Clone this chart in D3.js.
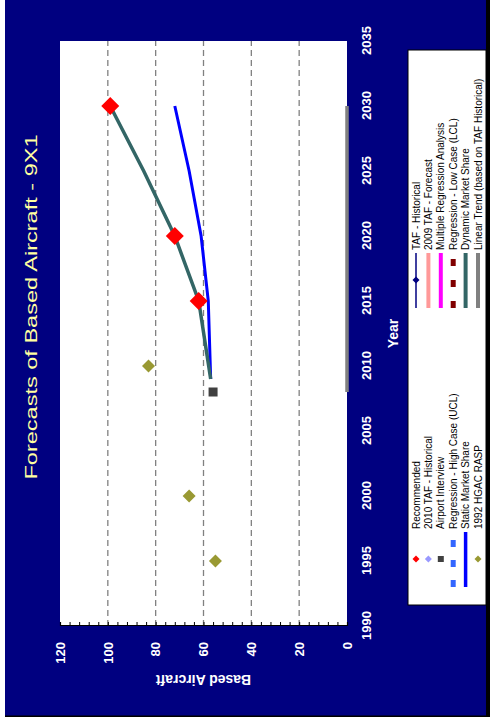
<!DOCTYPE html>
<html>
<head>
<meta charset="utf-8">
<script src="https://cdn.jsdelivr.net/npm/d3@7"></script>
<style>
  html, body { margin: 0; padding: 0; background: #ffffff; }
  svg { display: block; }
  text { font-family: "Liberation Sans", Arial, sans-serif; }
</style>
</head>
<body>
<script>
// ---------------- data ----------------
const yearTicks = [1990, 1995, 2000, 2005, 2010, 2015, 2020, 2025, 2030, 2035];
const valueTicks = [0, 20, 40, 60, 80, 100, 120];

const recommendedYears = [2015, 2020, 2030];
const recommendedValues = [62, 72, 99];

const dynamicYears = [2009, 2015, 2020, 2025, 2030];
const dynamicValues = [57, 62, 72, 85, 99];

const staticYears = [2009, 2015, 2020, 2025, 2030];
const staticValues = [57, 58, 61, 66, 72];

const interviewYears = [2008];
const interviewValues = [56];

const rasp1992Years = [1995, 2000, 2010];
const rasp1992Values = [55, 66, 83];

const linearTrendYears = [2008, 2030];
const linearTrendValues = [0, 0];

const legendCol1 = ["Recommended", "2010 TAF - Historical", "Airport Interview",
  "Regression - High Case (UCL)", "Static Market Share", "1992 HGAC RASP"];
const legendCol2 = ["TAF - Historical", "2009 TAF - Forecast", "Multiple Regression Analysis",
  "Regression - Low Case (LCL)", "Dynamic Market Share", "Linear Trend (based on TAF Historical)"];

// ---------------- layout (chart drawn in unrotated frame, then rotated -90deg) ----------------
const svg = d3.select("body").append("svg").attr("width", 490).attr("height", 721);
const g = svg.append("g").attr("transform", `translate(0,${721}) rotate(-90)`);

const NAVY = "#000080";
// background
g.append("rect").attr("x", 5).attr("y", 5).attr("width", 716).attr("height", 482).attr("fill", NAVY);
g.append("rect").attr("x", 5).attr("y", 486).attr("width", 716).attr("height", 4).attr("fill", "#000");
g.append("rect").attr("x", 4).attr("y", 5).attr("width", 1.5).attr("height", 485).attr("fill", "#000");

const plot = { x0: 95, x1: 680, y0: 60, y1: 347 };
g.append("rect").attr("x", plot.x0).attr("y", plot.y0)
  .attr("width", plot.x1 - plot.x0).attr("height", plot.y1 - plot.y0).attr("fill", "#fff");

const x = d3.scaleLinear().domain([1990, 2035]).range([plot.x0, plot.x1]);
const y = d3.scaleLinear().domain([0, 120]).range([plot.y1, plot.y0]);

// gridlines
g.append("g").selectAll("line").data(valueTicks.filter(v => v > 0 && v < 120)).join("line")
  .attr("x1", plot.x0).attr("x2", plot.x1)
  .attr("y1", d => y(d)).attr("y2", d => y(d))
  .attr("stroke", "#808080").attr("stroke-width", 1.3).attr("stroke-dasharray", "6,4");

// value axis (left in unrotated frame) with inward ticks
const yAxis = d3.axisRight(y).tickValues(d3.range(0, 121, 4)).tickSize(4).tickFormat("");
const yAxisG = g.append("g").attr("transform", `translate(${plot.x0},0)`).call(yAxis);
yAxisG.select(".domain").attr("stroke", "#000").attr("stroke-width", 1.2);
yAxisG.selectAll(".tick line").attr("stroke", "#000").attr("stroke-width", 1);

// value tick labels
const yLab = d3.axisLeft(y).tickValues(valueTicks).tickSize(0).tickPadding(16);
const yLabG = g.append("g").attr("transform", `translate(${plot.x0},0)`).call(yLab);
yLabG.select(".domain").remove();
yLabG.selectAll("text").attr("fill", "#fff").attr("font-size", 13).attr("font-weight", "bold")
  .attr("font-family", "Liberation Sans, Arial, sans-serif");

// year axis
const xAxis = d3.axisBottom(x).tickValues(yearTicks).tickSize(0).tickPadding(15).tickFormat(d3.format("d"));
const xAxisG = g.append("g").attr("transform", `translate(0,${plot.y1})`).call(xAxis);
xAxisG.select(".domain").remove();
xAxisG.selectAll("text").attr("fill", "#fff").attr("font-size", 13).attr("font-weight", "bold")
  .attr("font-family", "Liberation Sans, Arial, sans-serif");

// axis titles
g.append("text").attr("x", (plot.x0 + plot.x1) / 2).attr("y", 398)
  .attr("text-anchor", "middle").attr("fill", "#fff").attr("font-size", 14).attr("font-weight", "bold")
  .text("Year");
g.append("text").attr("transform", `translate(46,${(plot.y0 + plot.y1) / 2}) rotate(-90)`)
  .attr("text-anchor", "middle").attr("fill", "#fff").attr("font-size", 14).attr("font-weight", "bold")
  .text("Based Aircraft");

// title
g.append("text").attr("x", 414).attr("y", 37).attr("text-anchor", "middle")
  .attr("fill", "#ffffa0").attr("font-size", 17).attr("font-weight", "normal")
  .attr("textLength", 345).attr("lengthAdjust", "spacingAndGlyphs")
  .text("Forecasts of Based Aircraft - 9X1");

// ---------------- series ----------------
const line = d3.line().x(d => x(d[0])).y(d => y(d[1]));
const zip = (a, b) => a.map((v, i) => [v, b[i]]);

// linear trend (gray) along the axis
g.append("path").datum(zip(linearTrendYears, linearTrendValues)).attr("d", line)
  .attr("fill", "none").attr("stroke", "#808080").attr("stroke-width", 3.5);

// static market share
g.append("path").datum(zip(staticYears, staticValues)).attr("d", line)
  .attr("fill", "none").attr("stroke", "#0000ff").attr("stroke-width", 3);

// dynamic market share
g.append("path").datum(zip(dynamicYears, dynamicValues)).attr("d", line)
  .attr("fill", "none").attr("stroke", "#336666").attr("stroke-width", 3.5);

const diamond = (s) => `M0,${-s}L${s},0L0,${s}L${-s},0Z`;

// 1992 HGAC RASP
g.append("g").selectAll("path").data(zip(rasp1992Years, rasp1992Values)).join("path")
  .attr("transform", d => `translate(${x(d[0])},${y(d[1])})`).attr("d", diamond(6.5))
  .attr("fill", "#999933");

// airport interview
g.append("g").selectAll("rect").data(zip(interviewYears, interviewValues)).join("rect")
  .attr("x", d => x(d[0]) - 4.5).attr("y", d => y(d[1]) - 4.5).attr("width", 9).attr("height", 9)
  .attr("fill", "#404040");

// recommended
g.append("g").selectAll("path").data(zip(recommendedYears, recommendedValues)).join("path")
  .attr("transform", d => `translate(${x(d[0])},${y(d[1])})`).attr("d", diamond(9))
  .attr("fill", "#ff0000");

// ---------------- legend ----------------
const lg = g.append("g");
lg.append("rect").attr("x", 116).attr("y", 408).attr("width", 555).attr("height", 78)
  .attr("fill", "#fff").attr("stroke", "#000").attr("stroke-width", 1);
const rowY = i => 416 + 12.4 * i;
const c1 = { a: 134, b: 189, m: 162, t: 192 };
const c2 = { a: 413, b: 468, m: 441, t: 471 };

function legText(col, labels) {
  lg.append("g").selectAll("text").data(labels).join("text")
    .attr("x", col.t).attr("y", (d, i) => rowY(i)).attr("dy", "0.35em")
    .attr("font-size", 10).attr("fill", "#000").text(d => d);
}
legText(c1, legendCol1);
legText(c2, legendCol2);

function legLine(col, i, color, w, dash) {
  const l = lg.append("line").attr("x1", col.a).attr("x2", col.b).attr("y1", rowY(i)).attr("y2", rowY(i))
    .attr("stroke", color).attr("stroke-width", w);
  if (dash) l.attr("stroke-dasharray", dash);
}
function legDiamond(col, i, color, s) {
  lg.append("path").attr("transform", `translate(${col.m},${rowY(i)})`).attr("d", diamond(s)).attr("fill", color);
}
// column 1
legDiamond(c1, 0, "#ff0000", 3.5);
legDiamond(c1, 1, "#9999ff", 3.5);
lg.append("rect").attr("x", c1.m - 3).attr("y", rowY(2) - 3).attr("width", 6).attr("height", 6).attr("fill", "#404040");
legLine(c1, 3, "#3366ff", 5, "7,13");
legLine(c1, 4, "#0000ff", 3.5);
legDiamond(c1, 5, "#999933", 3.5);
// column 2
legLine(c2, 0, "#000080", 1.5);
legDiamond(c2, 0, "#000080", 3.5);
legLine(c2, 1, "#ff9999", 4);
legLine(c2, 2, "#ff00ff", 4);
legLine(c2, 3, "#800000", 5, "7,14");
legLine(c2, 4, "#336666", 4);
legLine(c2, 5, "#808080", 4);
</script>
</body>
</html>
